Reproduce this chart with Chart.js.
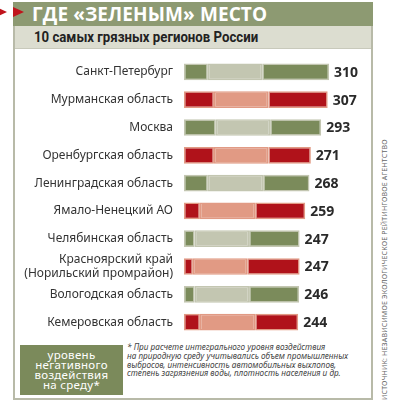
<!DOCTYPE html>
<html>
<head>
<meta charset="utf-8">
<script src="https://cdn.jsdelivr.net/npm/chart.js@4.4.0/dist/chart.umd.min.js"></script>
<style>
    body { margin: 0; background: #fff; width: 395px; height: 405px; overflow: hidden; position: relative; font-family: 'Noto Sans', sans-serif; }
    .tri { position: absolute; top: 7px; width: 0; height: 0; border-top: 5px solid transparent; border-bottom: 5px solid transparent; border-left: 11px solid #c0141c; }
    #head { position: absolute; left: 13px; top: 2px; width: 360px; height: 24px; background: #8d9a72; color: #fff; font: bold 19px 'Open Sans', sans-serif; letter-spacing: 0.1px; line-height: 24px; }
    #head span { position: absolute; left: 19px; top: 0; }
    #frame { position: absolute; left: 13px; top: 26px; width: 356px; height: 372px; border: 2px solid #b8baa8; border-top: none; }
    #sub { position: absolute; left: 0; top: 0; width: 356px; height: 22px; background: #dcddd0; border-bottom: 1px solid #c8c9bb; font: bold 15px Roboto, sans-serif; color: #222; line-height: 22px; }
    #sub span { position: absolute; left: 19px; transform: scaleX(0.88); transform-origin: left center; white-space: nowrap; }
    #chartBox { position: absolute; left: 14px; top: 58px; }
    #legend { position: absolute; left: 20px; top: 345px; width: 103px; height: 50px; background: #7b8a5b; color: #fff; font-size: 11.5px; line-height: 10px; text-align: center; box-sizing: border-box; padding-top: 5px; letter-spacing: 0.3px; }
    #note { position: absolute; left: 127px; top: 343px; font-size: 8.2px; font-style: italic; line-height: 8.8px; color: #444; white-space: nowrap; }
    #source { position: absolute; left: 381px; top: 400px; transform: rotate(-90deg); transform-origin: left top; font-size: 7px; line-height: 8px; color: #666; white-space: nowrap; letter-spacing: 0.2px; }
</style>
</head>
<body>
<div class="tri" style="left:-4px"></div>
<div id="head"><span>ГДЕ «ЗЕЛЕНЫМ» МЕСТО</span></div>
<div class="tri" style="left:13px"></div>
<div id="frame"><div id="sub"><span>10 самых грязных регионов России</span></div></div>
<div id="chartBox"><canvas id="chart" width="358" height="278"></canvas></div>
<div id="legend">уровень<br>негативного<br>воздействия<br>на среду*</div>
<div id="note">* При расчете интегрального уровня воздействия<br>на природную среду учитывались объем промышленных<br>выбросов, интенсивность автомобильных выхлопов,<br>степень загрязнения воды, плотность населения и др.</div>
<div id="source">ИСТОЧНИК: НЕЗАВИСИМОЕ ЭКОЛОГИЧЕСКОЕ РЕЙТИНГОВОЕ АГЕНТСТВО</div>
<script>
const regions = [
    'Санкт-Петербург',
    'Мурманская область',
    'Москва',
    'Оренбургская область',
    'Ленинградская область',
    'Ямало-Ненецкий АО',
    'Челябинская область',
    ['Красноярский край', '(Норильский промрайон)'],
    'Вологодская область',
    'Кемеровская область',
]
const totals = [310, 307, 293, 271, 268, 259, 247, 247, 246, 244]

// the bars are drawn in three parts: dark, light, dark
const partStart = [51, 64, 68, 64, 51, 34, 23, 19, 23, 34]
const partMiddle = [116, 116, 116, 116, 118, 118, 116, 116, 116, 118]
const partEnd = [143, 127, 109, 91, 99, 107, 108, 112, 107, 92]

const darkColors = ['#7b8b5b', '#b0121a']
const lightColors = ['#c3c6b1', '#e19a84']

const dark = regions.map((r, i) => darkColors[i % 2])
const light = regions.map((r, i) => lightColors[i % 2])

function part(values, colors) {
    return {
        data: values,
        backgroundColor: colors,
        borderColor: light,
        borderWidth: 1.5,
        borderSkipped: false,
        barPercentage: 0.6,
        categoryPercentage: 1,
    }
}

const totalLabels = {
    id: 'totalLabels',
    afterDatasetsDraw(chart) {
        const ctx = chart.ctx
        const meta = chart.getDatasetMeta(2)
        ctx.save()
        ctx.font = 'bold 14px "Noto Sans", sans-serif'
        ctx.fillStyle = '#2a2a2a'
        ctx.textBaseline = 'middle'
        meta.data.forEach((bar, i) => {
            ctx.fillText(totals[i], bar.x + 5, bar.y + 1)
        })
        ctx.restore()
    },
}

new Chart(document.getElementById('chart'), {
    type: 'bar',
    data: {
        labels: regions,
        datasets: [
            part(partStart, dark),
            part(partMiddle, light),
            part(partEnd, dark),
        ],
    },
    options: {
        indexAxis: 'y',
        responsive: false,
        animation: false,
        devicePixelRatio: 1,
        layout: { padding: { right: 12 } },
        plugins: { legend: { display: false }, tooltip: { enabled: false } },
        scales: {
            x: { stacked: true, min: 0, max: 376, display: false },
            y: {
                stacked: true,
                grid: { display: false, drawTicks: false },
                border: { display: false },
                ticks: {
                    autoSkip: false,
                    padding: 11,
                    color: '#333',
                    font: { family: 'Noto Sans', size: 12, lineHeight: 1.1 },
                },
                afterFit: (scale) => {
                    scale.width = 170
                    scale.paddingTop = 0
                    scale.paddingBottom = 0
                },
            },
        },
    },
    plugins: [totalLabels],
})
</script>
</body>
</html>
